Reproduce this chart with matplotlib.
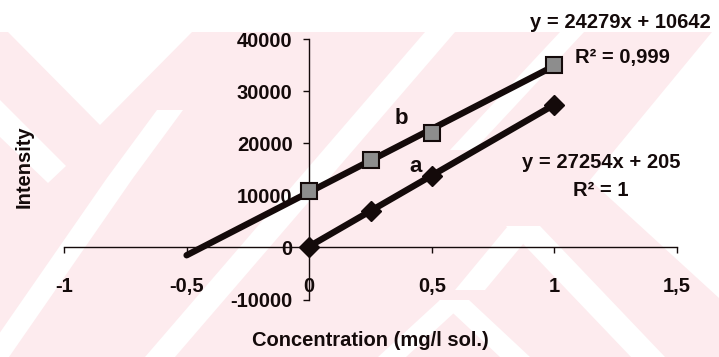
import matplotlib
matplotlib.use("Agg")
import matplotlib.pyplot as plt
from matplotlib.patches import Polygon, Rectangle
import numpy as np

# ---- data -------------------------------------------------------------
conc = [0, 0.25, 0.5, 1]
intensity_a = [150, 7000, 13800, 27400]
intensity_b = [10900, 16800, 22100, 35100]

fit_a = (27254, 205)        # slope, intercept
fit_b = (24279, 10642)
fit_a_range = [0, 1]
fit_b_range = [-0.5, 1]

x_ticks = [-1, -0.5, 0, 0.5, 1, 1.5]
x_tick_labels = ["-1", "-0,5", "0", "0,5", "1", "1,5"]
y_ticks = [-10000, 0, 10000, 20000, 30000, 40000]
y_tick_labels = ["-10000", "0", "10000", "20000", "30000", "40000"]

eq_a = "y = 27254x + 205"
r2_a = "R² = 1"
eq_b = "y = 24279x + 10642"
r2_b = "R² = 0,999"

# ---- figure -----------------------------------------------------------
W, H = 719, 357
plt.rcParams["font.family"] = ["Liberation Sans", "DejaVu Sans"]
plt.rcParams["font.weight"] = "bold"
INK = "#140a0a"
FS = 14.5

fig = plt.figure(figsize=(W / 100, H / 100), dpi=100)
fig.patch.set_facecolor("white")


def px(pts):
    return [(x / W, 1 - y / H) for x, y in pts]


def band(p0, p1, w):
    (x0, y0), (x1, y1) = p0, p1
    h = w / 2
    return [(x0 - h, y0), (x0 + h, y0), (x1 + h, y1), (x1 - h, y1)]


# light pink background pattern with white diagonal gaps
PINK = "#fdebee"
fig.patches.append(Rectangle((0, 0), 1, 1 - 32 / H, transform=fig.transFigure,
                             facecolor=PINK, edgecolor="none", zorder=-3))
gaps = [
    [(8, 32), (192, 32), (100, 125)],
    [(0, 100), (0, 137), (48, 183), (66, 166)],
    band((-4, 357), (120, 178), 26),
    band((120, 178), (170, 110), 26),
    band((160, 357), (440, 32), 30),
    band((462, 150), (572, 32), 24),
    [(712, 32), (719, 32), (719, 298), (590, 180)],
    band((523, 226), (648, 357), 34),
    band((523, 226), (470, 290), 30),
    band((454, 300), (515, 357), 30),
    band((454, 300), (392, 357), 28),
]
for g in gaps:
    fig.patches.append(Polygon(px(g), closed=True, transform=fig.transFigure,
                               facecolor="white", edgecolor="none", zorder=-2))

# ---- axes -------------------------------------------------------------
ax = fig.add_axes([64 / W, 1 - 299.5 / H, 613 / W, 260.1 / H])
ax.patch.set_visible(False)
ax.set_xlim(-1, 1.5)
ax.set_ylim(-10000, 40000)

for side in ("top", "right"):
    ax.spines[side].set_visible(False)
ax.spines["left"].set_position(("data", 0))
ax.spines["bottom"].set_position(("data", 0))
for side in ("left", "bottom"):
    ax.spines[side].set_linewidth(1.0)
    ax.spines[side].set_color(INK)

ax.set_xticks(x_ticks)
ax.set_xticklabels(x_tick_labels)
ax.set_yticks(y_ticks)
ax.set_yticklabels(y_tick_labels)
ax.tick_params(axis="x", direction="out", length=4, width=1, pad=17,
               labelsize=FS, colors=INK)
ax.tick_params(axis="y", direction="out", length=4, width=1, pad=8,
               labelsize=FS, colors=INK)

# trend lines
for (m, c), rng in ((fit_b, fit_b_range), (fit_a, fit_a_range)):
    xs = np.array(rng, dtype=float)
    ax.plot(xs, m * xs + c, color=INK, lw=4.6, solid_capstyle="round", zorder=3)

# measured points
ax.plot(conc, intensity_b, linestyle="none", marker="s", markersize=11,
        markerfacecolor="#8d8d8d", markeredgecolor=INK, markeredgewidth=1.5,
        zorder=4)
ax.plot(conc, intensity_a, linestyle="none", marker="D", markersize=10,
        markerfacecolor=INK, markeredgecolor=INK, zorder=4)

# ---- text -------------------------------------------------------------
def ftext(x, y, s, size=FS, **kw):
    fig.text(x / W, 1 - y / H, s, ha="center", va="center", fontsize=size,
             color=INK, **kw)


ftext(620, 22, eq_b)
ftext(622, 57, r2_b)
ftext(601, 163, eq_a)
ftext(601, 190, r2_a)
ftext(401, 119, "b", size=16)
ftext(416, 166, "a", size=16)
ftext(24, 167, "Intensity", rotation=90)
ftext(370, 341, "Concentration (mg/l sol.)")

fig.savefig("out.png", dpi=100)
